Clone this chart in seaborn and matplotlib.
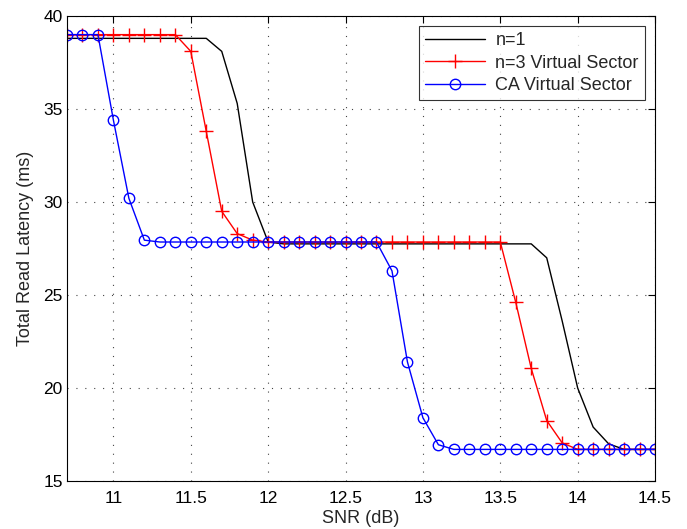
import matplotlib
matplotlib.use("Agg")
import matplotlib.pyplot as plt
import seaborn as sns
import pandas as pd

snr = [10.7, 10.8, 10.9, 11.0, 11.1, 11.2, 11.3, 11.4, 11.5, 11.6,
       11.7, 11.8, 11.9, 12.0, 12.1, 12.2, 12.3, 12.4, 12.5, 12.6,
       12.7, 12.8, 12.9, 13.0, 13.1, 13.2, 13.3, 13.4, 13.5, 13.6,
       13.7, 13.8, 13.9, 14.0, 14.1, 14.2, 14.3, 14.4, 14.5]

n1 = [38.8, 38.8, 38.8, 38.8, 38.8, 38.8, 38.8, 38.8, 38.8, 38.8,
      38.1, 35.3, 30.0, 27.85, 27.75, 27.75, 27.75, 27.75, 27.75, 27.75,
      27.75, 27.75, 27.75, 27.75, 27.75, 27.75, 27.75, 27.75, 27.75, 27.75,
      27.75, 27.0, 23.6, 20.0, 17.9, 17.0, 16.7, 16.7, 16.7]

n3 = [39.0, 39.0, 39.0, 39.0, 39.0, 39.0, 39.0, 39.0, 38.1, 33.8,
      29.5, 28.3, 27.95, 27.85, 27.85, 27.85, 27.85, 27.85, 27.85, 27.85,
      27.85, 27.85, 27.85, 27.85, 27.85, 27.85, 27.85, 27.85, 27.85, 24.6,
      21.05, 18.25, 17.05, 16.7, 16.7, 16.7, 16.7, 16.7, 16.7]

ca = [39.0, 39.0, 39.0, 34.4, 30.2, 27.95, 27.85, 27.85, 27.85, 27.85,
      27.85, 27.85, 27.85, 27.85, 27.85, 27.85, 27.85, 27.85, 27.85, 27.85,
      27.85, 26.3, 21.4, 18.4, 16.95, 16.7, 16.7, 16.7, 16.7, 16.7,
      16.7, 16.7, 16.7, 16.7, 16.7, 16.7, 16.7, 16.7, 16.7]

labels = ["n=1", "n=3 Virtual Sector", "CA Virtual Sector"]
xticks = [11, 11.5, 12, 12.5, 13, 13.5, 14, 14.5]
xtick_labels = ["11", "11.5", "12", "12.5", "13", "13.5", "14", "14.5"]
yticks = [15, 20, 25, 30, 35, 40]

sns.set_style("white")
plt.rcParams['font.family'] = ['Liberation Sans', 'DejaVu Sans']

fig = plt.figure(figsize=(6.87, 5.29), dpi=100)
ax = fig.add_axes([0.0975, 0.0907, 0.856, 0.879])

df1 = pd.DataFrame({"snr": snr, "lat": n1})
df3 = pd.DataFrame({"snr": snr, "lat": n3})
dfc = pd.DataFrame({"snr": snr, "lat": ca})

sns.lineplot(data=df1, x="snr", y="lat", ax=ax, color="black", linewidth=1.0,
             label=labels[0])
sns.lineplot(data=df3, x="snr", y="lat", ax=ax, color="red", linewidth=1.0,
             marker="+", markersize=10, markeredgewidth=1.0, markeredgecolor="red",
             label=labels[1])
sns.lineplot(data=dfc, x="snr", y="lat", ax=ax, color="blue", linewidth=1.0,
             marker="o", markersize=7.5, markerfacecolor="none", markeredgecolor="blue",
             markeredgewidth=1.0, label=labels[2])

ax.set_xlim(10.7, 14.5)
ax.set_ylim(15, 40)
ax.set_xticks(xticks)
ax.set_xticklabels(xtick_labels)
ax.set_yticks(yticks)
ax.set_xlabel("SNR (dB)", fontsize=13, labelpad=3)
ax.set_ylabel("Total Read Latency (ms)", fontsize=13, labelpad=7)
ax.tick_params(direction="in", length=5, width=0.8, labelsize=12.5,
               top=True, right=True, colors="black")
ax.tick_params(axis="x", pad=7)
ax.tick_params(axis="y", pad=3)
for s in ax.spines.values():
    s.set_visible(True)
    s.set_color("black")
    s.set_linewidth(0.8)
ax.grid(True, linestyle=(0, (1, 7)), color="#444444", linewidth=0.8)

leg = ax.legend(loc="upper right", fontsize=13, frameon=True, fancybox=False,
                edgecolor="black", handlelength=3.35, borderpad=0.35,
                labelspacing=0.3, handletextpad=0.55, borderaxespad=0.55)
leg.get_frame().set_linewidth(0.8)

fig.savefig("out.png", dpi=100, facecolor="white")
